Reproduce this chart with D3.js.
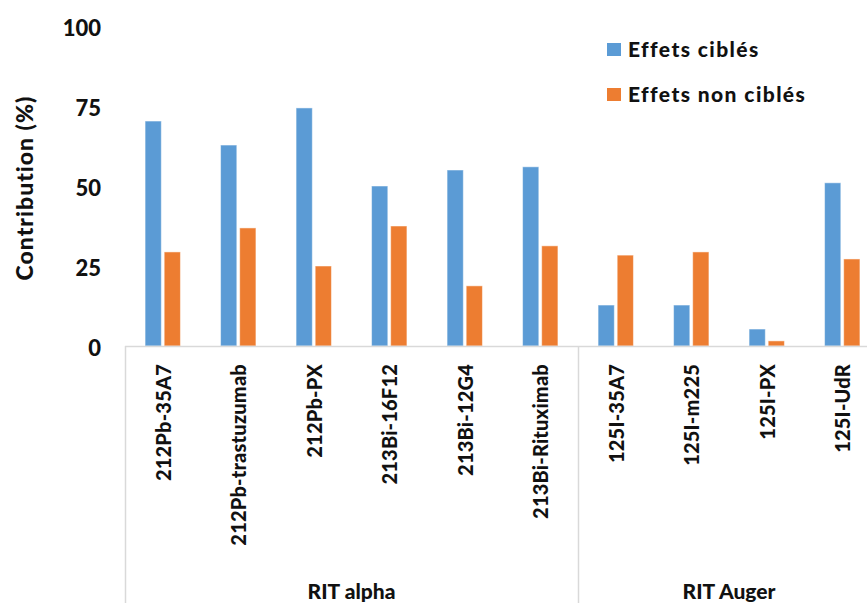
<!DOCTYPE html>
<html><head><meta charset="utf-8">
<script src="https://cdn.jsdelivr.net/npm/d3@7"></script>
<style>body{margin:0;background:#fff}svg{display:block}text{font-family:Lato,"Open Sans",sans-serif;font-weight:900;fill:#111}</style>
</head><body><svg id="c" width="867" height="603"></svg>
<script>
const categories = ["212Pb-35A7","212Pb-trastuzumab","212Pb-PX","213Bi-16F12","213Bi-12G4","213Bi-Rituximab","125I-35A7","125I-m225","125I-PX","125I-UdR"];
const groups = ["RIT alpha","RIT alpha","RIT alpha","RIT alpha","RIT alpha","RIT alpha","RIT Auger","RIT Auger","RIT Auger","RIT Auger"];
const seriesNames = ["Effets ciblés","Effets non ciblés"];
const cibles = [70.3,62.8,74.4,50,55,56,12.8,12.8,5.3,51];
const nonCibles = [29.4,36.9,25,37.5,18.8,31.3,28.4,29.4,1.6,27.2];
const yTicks = [0,25,50,75,100];
const colors = ["#5B9BD5","#ED7D31"];

const svg = d3.select("#c");
const mLeft = 125, mRight = 880, mTop = 26, mBottom = 346;
const x = d3.scaleBand().domain(categories).range([mLeft,mRight]).paddingInner(0).paddingOuter(0);
const y = d3.scaleLinear().domain([0,100]).range([mBottom,mTop]);
const sub = d3.scaleBand().domain([0,1]).range([0,x.bandwidth()]).paddingInner(0.15).paddingOuter(1.05);

// y tick labels
svg.append("g").selectAll("text").data(yTicks).join("text")
  .attr("x",101).attr("y",d=>y(d)+9.5).attr("text-anchor","end")
  .style("font-size","22px").text(d=>d);

// y title
svg.append("text").attr("transform",`translate(33,188) rotate(-90)`)
  .attr("text-anchor","middle").style("font-size","23px").style("letter-spacing","1px").text("Contribution (%)");

// bars
const series = [cibles, nonCibles];
series.forEach((vals,si)=>{
  svg.append("g").selectAll("rect").data(vals).join("rect")
    .attr("x",(d,i)=>x(categories[i])+sub(si))
    .attr("width",sub.bandwidth())
    .attr("y",d=>y(d)).attr("height",d=>mBottom-y(d))
    .attr("fill",colors[si]).attr("stroke","#fff").attr("stroke-opacity",0.5).attr("stroke-width",1);
});

// category axis box
const axisColor = "#d9d9d9";
svg.append("line").attr("x1",mLeft).attr("x2",mRight).attr("y1",mBottom+0.5).attr("y2",mBottom+0.5).attr("stroke",axisColor).attr("stroke-width",1.5);
const groupNames = Array.from(new Set(groups));
const bounds = groupNames.map(g=>{
  const idx = groups.map((v,i)=>v===g?i:-1).filter(i=>i>=0);
  return {g, x0:x(categories[idx[0]]), x1:x(categories[idx[idx.length-1]])+x.bandwidth()};
});
const seps = [mLeft].concat(bounds.map(b=>b.x1));
svg.append("g").selectAll("line").data(seps).join("line")
  .attr("x1",d=>Math.round(d)+0.5).attr("x2",d=>Math.round(d)+0.5).attr("y1",mBottom).attr("y2",603)
  .attr("stroke",axisColor).attr("stroke-width",1.5);

// category labels
svg.append("g").selectAll("text").data(categories).join("text")
  .attr("transform",d=>`translate(${x(d)+x.bandwidth()/2+8},364) rotate(-90)`)
  .attr("text-anchor","end").style("font-size","20px").style("letter-spacing","0.2px").text(d=>d);

// group labels
svg.append("g").selectAll("text").data(bounds).join("text")
  .attr("x",d=>(d.x0+d.x1)/2).attr("y",599).attr("text-anchor","middle").style("font-size","21px").text(d=>d.g);

// legend
const lg = svg.append("g");
seriesNames.forEach((s,i)=>{
  lg.append("rect").attr("x",607).attr("y",43+i*45).attr("width",14).attr("height",13).attr("fill",colors[i]);
  lg.append("text").attr("x",628).attr("y",57+i*45).style("font-size","21px").style("letter-spacing","1.4px").text(s);
});
</script></body></html>
